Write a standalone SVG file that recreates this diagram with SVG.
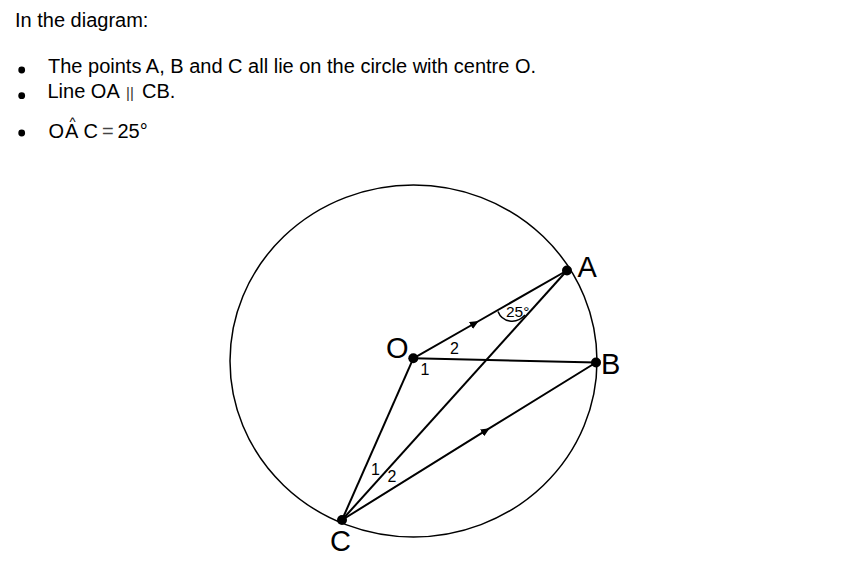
<svg xmlns="http://www.w3.org/2000/svg" width="847" height="562" viewBox="0 0 847 562">
<style>
text{font-family:"Liberation Sans",Arial,sans-serif;fill:#000}
.t{font-size:20px}
.lbl{font-size:29px}
.num{font-size:16px}
.ln{stroke:#000;stroke-width:2;fill:none}
.dot{fill:#000}
</style>
<defs>
<marker id="arr" markerWidth="10" markerHeight="8" refX="7" refY="4" orient="auto" markerUnits="userSpaceOnUse">
<path d="M0,0 L9,4 L0,8 Z" fill="#000"/>
</marker>
</defs>
<rect width="847" height="562" fill="#fff"/>
<g id="statement">
<text class="t" x="15" y="26.7">In the diagram:</text>
<circle cx="21.7" cy="70" r="3.4" class="dot"/>
<text class="t" x="48" y="73.3">The points A, B and C all lie on the circle with centre O.</text>
<circle cx="21.7" cy="95.7" r="3.4" class="dot"/>
<text class="t" x="47.5" y="98.3">Line OA</text>
<text class="t" x="126" y="98.3" style="font-size:15px;fill:#333">||</text>
<text class="t" x="142" y="98.3">CB.</text>
<circle cx="21.7" cy="133" r="3.4" class="dot"/>
<text class="t" x="48.5" y="138.3">O</text>
<text class="t" x="65" y="138.3">A</text>
<text x="72.5" y="125.5" style="font-size:13px" text-anchor="middle">^</text>
<text class="t" x="83.5" y="138.3">C</text>
<text class="t" x="102" y="138.3" style="fill:#444">=</text>
<text class="t" x="117.5" y="138.3">25°</text>
</g>
<g id="circle">
<ellipse cx="413.5" cy="361" rx="183.5" ry="176" fill="none" stroke="#000" stroke-width="1.5"/>
</g>
<g id="connectors">
<path class="ln" d="M413.3,358.3 L477,322 L567,270.5" marker-mid="url(#arr)"/>
<path class="ln" d="M413.3,358.3 L596,362.5"/>
<path class="ln" d="M413.3,358.3 L342,520"/>
<path class="ln" d="M342,520 L567,270.5"/>
<path class="ln" d="M342,520 L488,429.2 L596,362.5" marker-mid="url(#arr)"/>
<path d="M498,311.5 C502,322 516,325 525,315" fill="none" stroke="#000" stroke-width="1.5"/>
</g>
<g id="O">
<circle cx="413.3" cy="358.3" r="5" class="dot"/>
<text class="lbl" x="386" y="357.5">O</text>
<text class="num" x="420.5" y="375">1</text>
<text class="num" x="450" y="354">2</text>
</g>
<g id="A">
<circle cx="567" cy="270.5" r="5" class="dot"/>
<text class="lbl" x="577.5" y="276.5">A</text>
<text x="506" y="317" style="font-size:15.5px">25°</text>
</g>
<g id="B">
<circle cx="596" cy="362.5" r="5" class="dot"/>
<text class="lbl" x="601" y="373.5">B</text>
</g>
<g id="C">
<circle cx="342" cy="520" r="5" class="dot"/>
<text class="lbl" x="330" y="550.5">C</text>
<text class="num" x="371" y="475">1</text>
<text class="num" x="387.5" y="482">2</text>
</g>
</svg>
